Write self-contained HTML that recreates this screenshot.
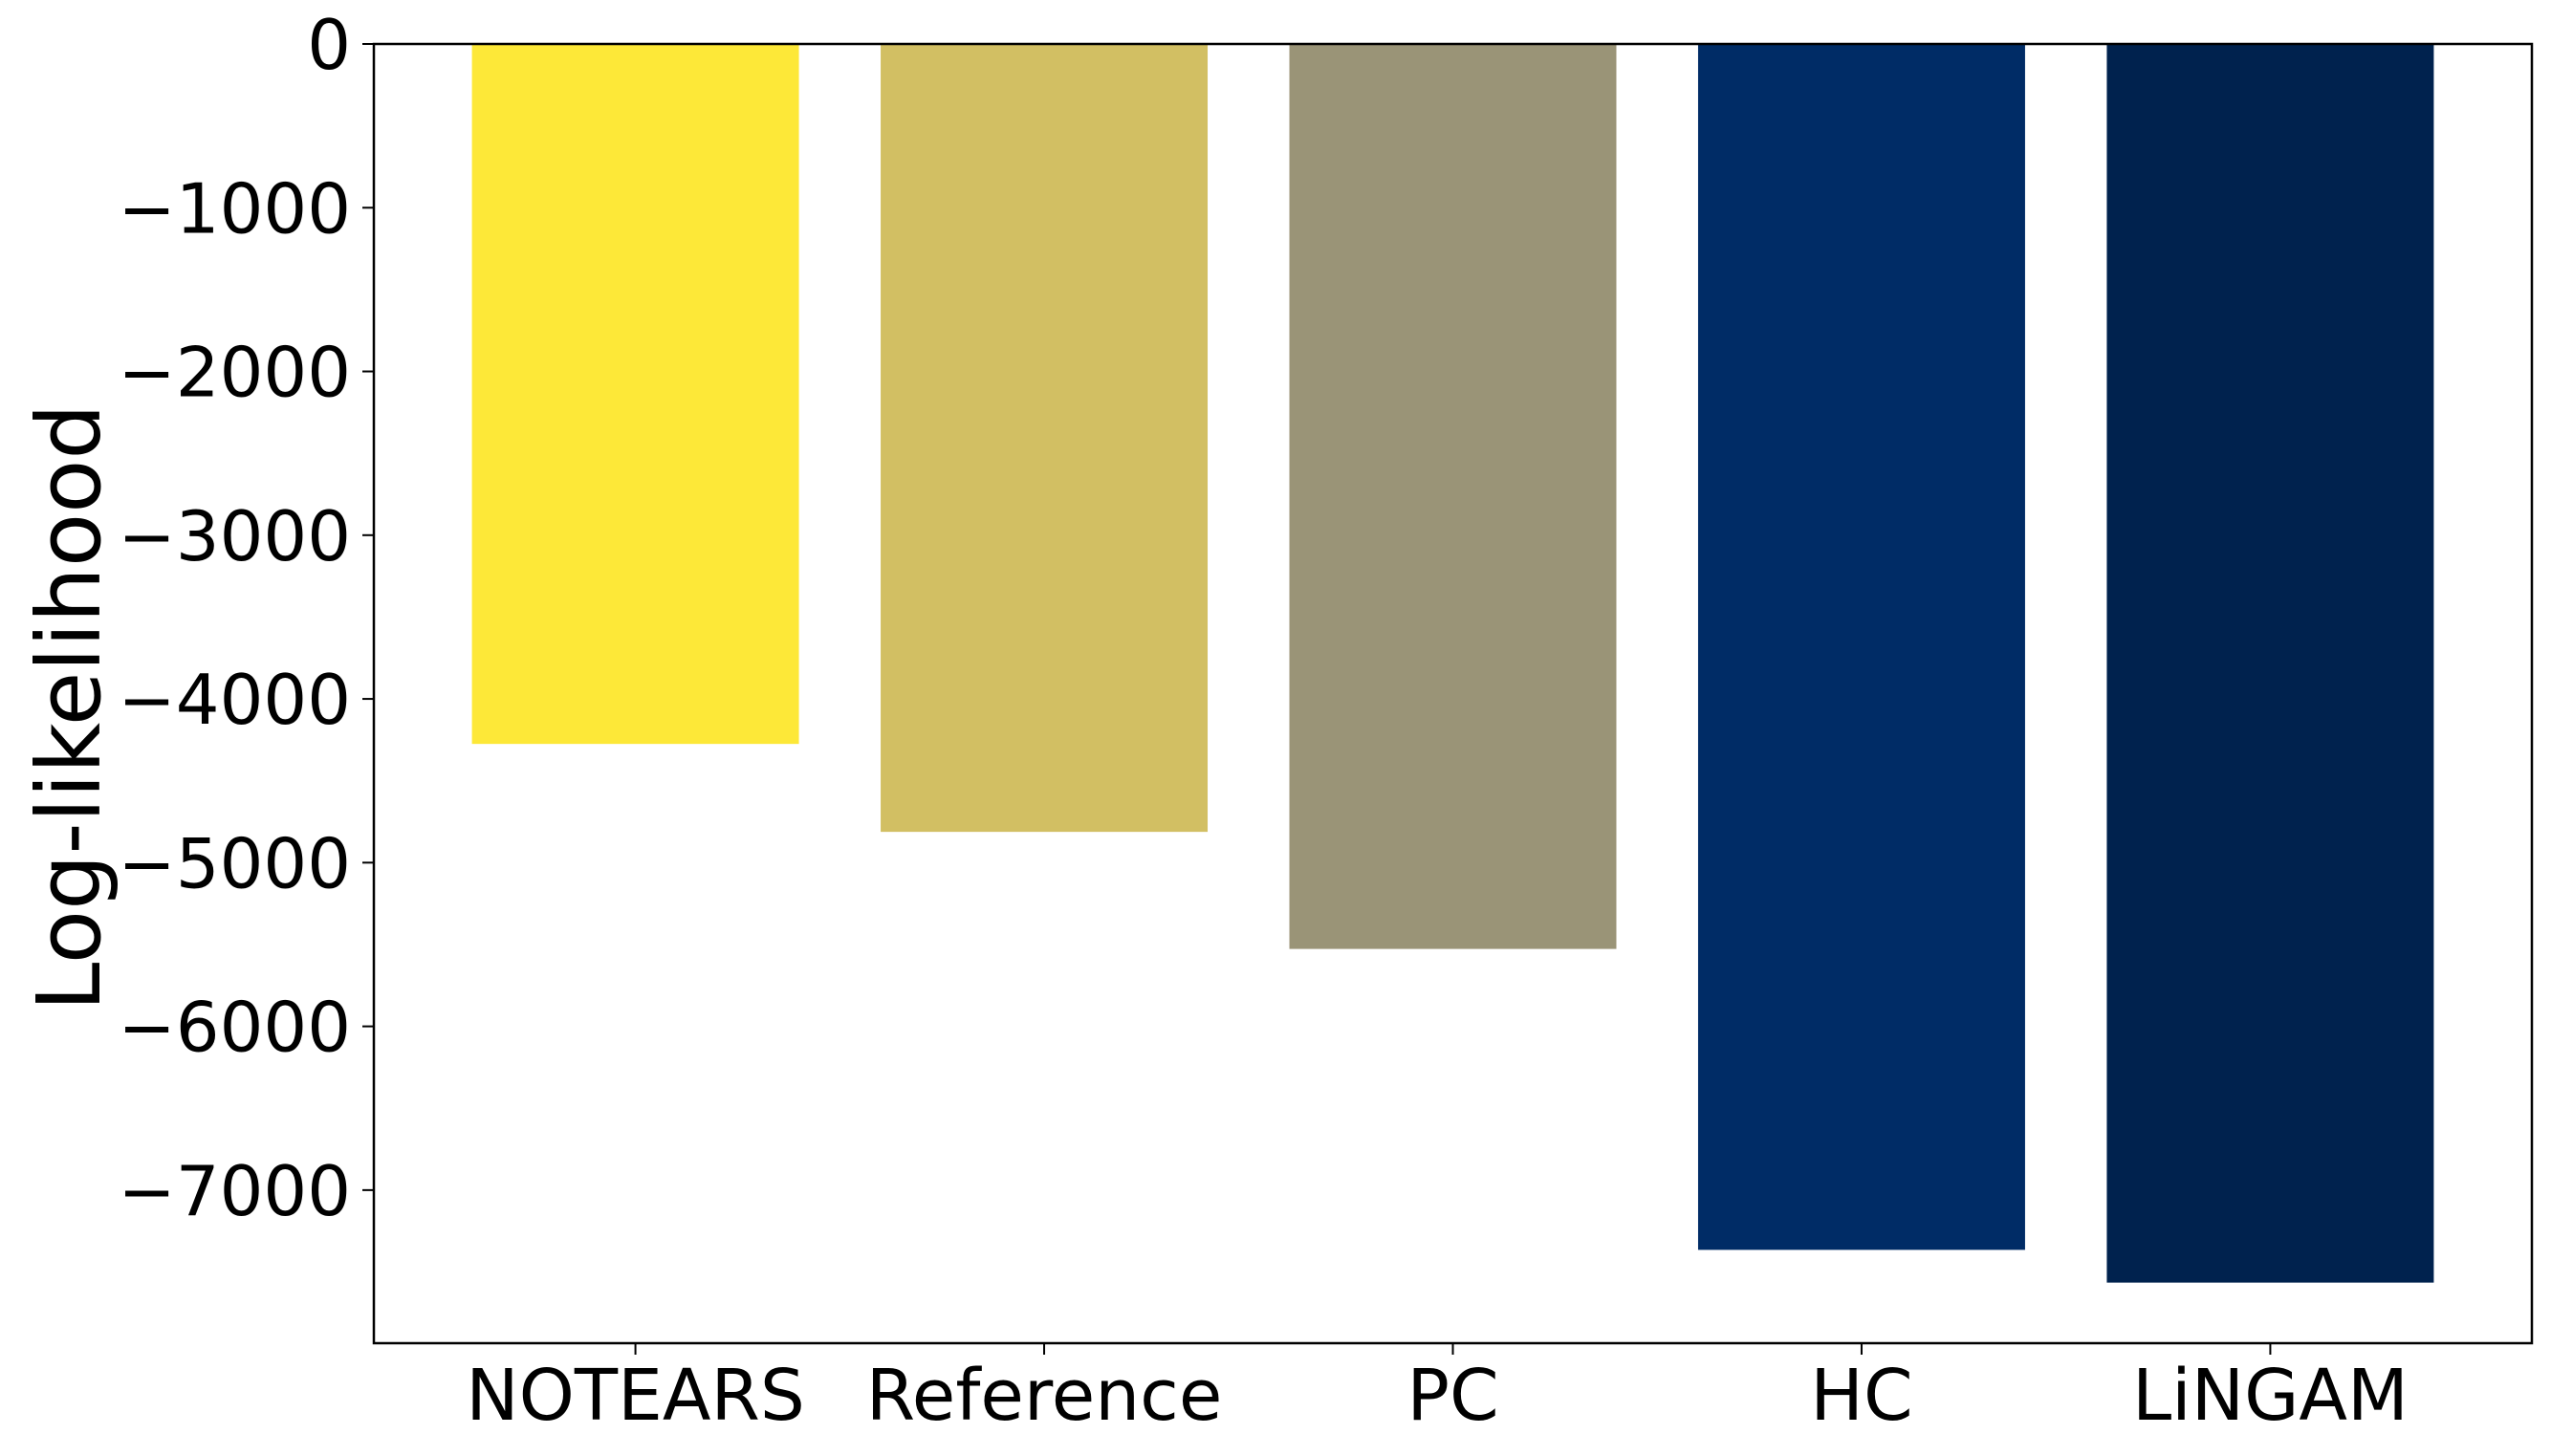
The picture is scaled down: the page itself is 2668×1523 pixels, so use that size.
<!DOCTYPE html>
<html><head><meta charset="utf-8"><style>
html,body{margin:0;padding:0;background:#fff;}
svg text{font-family:"DejaVu Sans","Liberation Sans",sans-serif;fill:#000;}
</style></head><body>
<svg id="chart" width="2668" height="1518" xmlns="http://www.w3.org/2000/svg">
<rect width="2668" height="1518" fill="#fff"/>
<g id="bars"></g>
<g id="axes"></g>
</svg>
<script>
const categories = ["NOTEARS","Reference","PC","HC","LiNGAM"];
const values = [-4275,-4812,-5527,-7365,-7565];
const colors = ["#fde838","#d2bf63","#9a9477","#002c66","#00224e"];
const yTicks = [0,-1000,-2000,-3000,-4000,-5000,-6000,-7000];
const yTickLabels = ["0","\u22121000","\u22122000","\u22123000","\u22124000","\u22125000","\u22126000","\u22127000"];

const L=391,R=2648,T=46,B=1405;
const xMin=-0.64,xMax=4.64,yMax=0,yMin=-7935;
const xs=v=>L+(v-xMin)/(xMax-xMin)*(R-L);
const ys=v=>T+(yMax-v)/(yMax-yMin)*(B-T);
const NS="http://www.w3.org/2000/svg";
function mk(tag,attrs,parent){const e=document.createElementNS(NS,tag);for(const k in attrs)e.setAttribute(k,attrs[k]);parent.appendChild(e);return e;}
const gb=document.getElementById('bars'),ga=document.getElementById('axes');
categories.forEach((c,i)=>{
  const x0=xs(i-0.4),x1=xs(i+0.4),y0=ys(0),y1=ys(values[i]);
  const r=mk('rect',{x:x0,y:y0,width:x1-x0,height:y1-y0,fill:colors[i]},gb);
  
  
  const t=mk('line',{x1:xs(i),x2:xs(i),y1:B,y2:B+12,stroke:'#000','stroke-width':2},ga);
  
  
  const lb=mk('text',{x:xs(i),y:B+80,'text-anchor':'middle','font-size':74},ga);
  lb.textContent=c;
  
  
});
yTicks.forEach((v,i)=>{
  const t=mk('line',{x1:L-12,x2:L,y1:ys(v),y2:ys(v),stroke:'#000','stroke-width':2},ga);
  
  
  const lb=mk('text',{x:L-24,y:ys(v)+26,'text-anchor':'end','font-size':72},ga);
  lb.textContent=yTickLabels[i];
  
  
});
const frame=mk('rect',{x:L,y:T,width:R-L,height:B-T,fill:'none',stroke:'#000','stroke-width':2.5},ga);


const yl=mk('text',{x:0,y:0,'text-anchor':'middle','font-size':92,transform:'translate(104,740) rotate(-90)'},ga);
yl.textContent='Log-likelihood';


</script>
</body></html>
